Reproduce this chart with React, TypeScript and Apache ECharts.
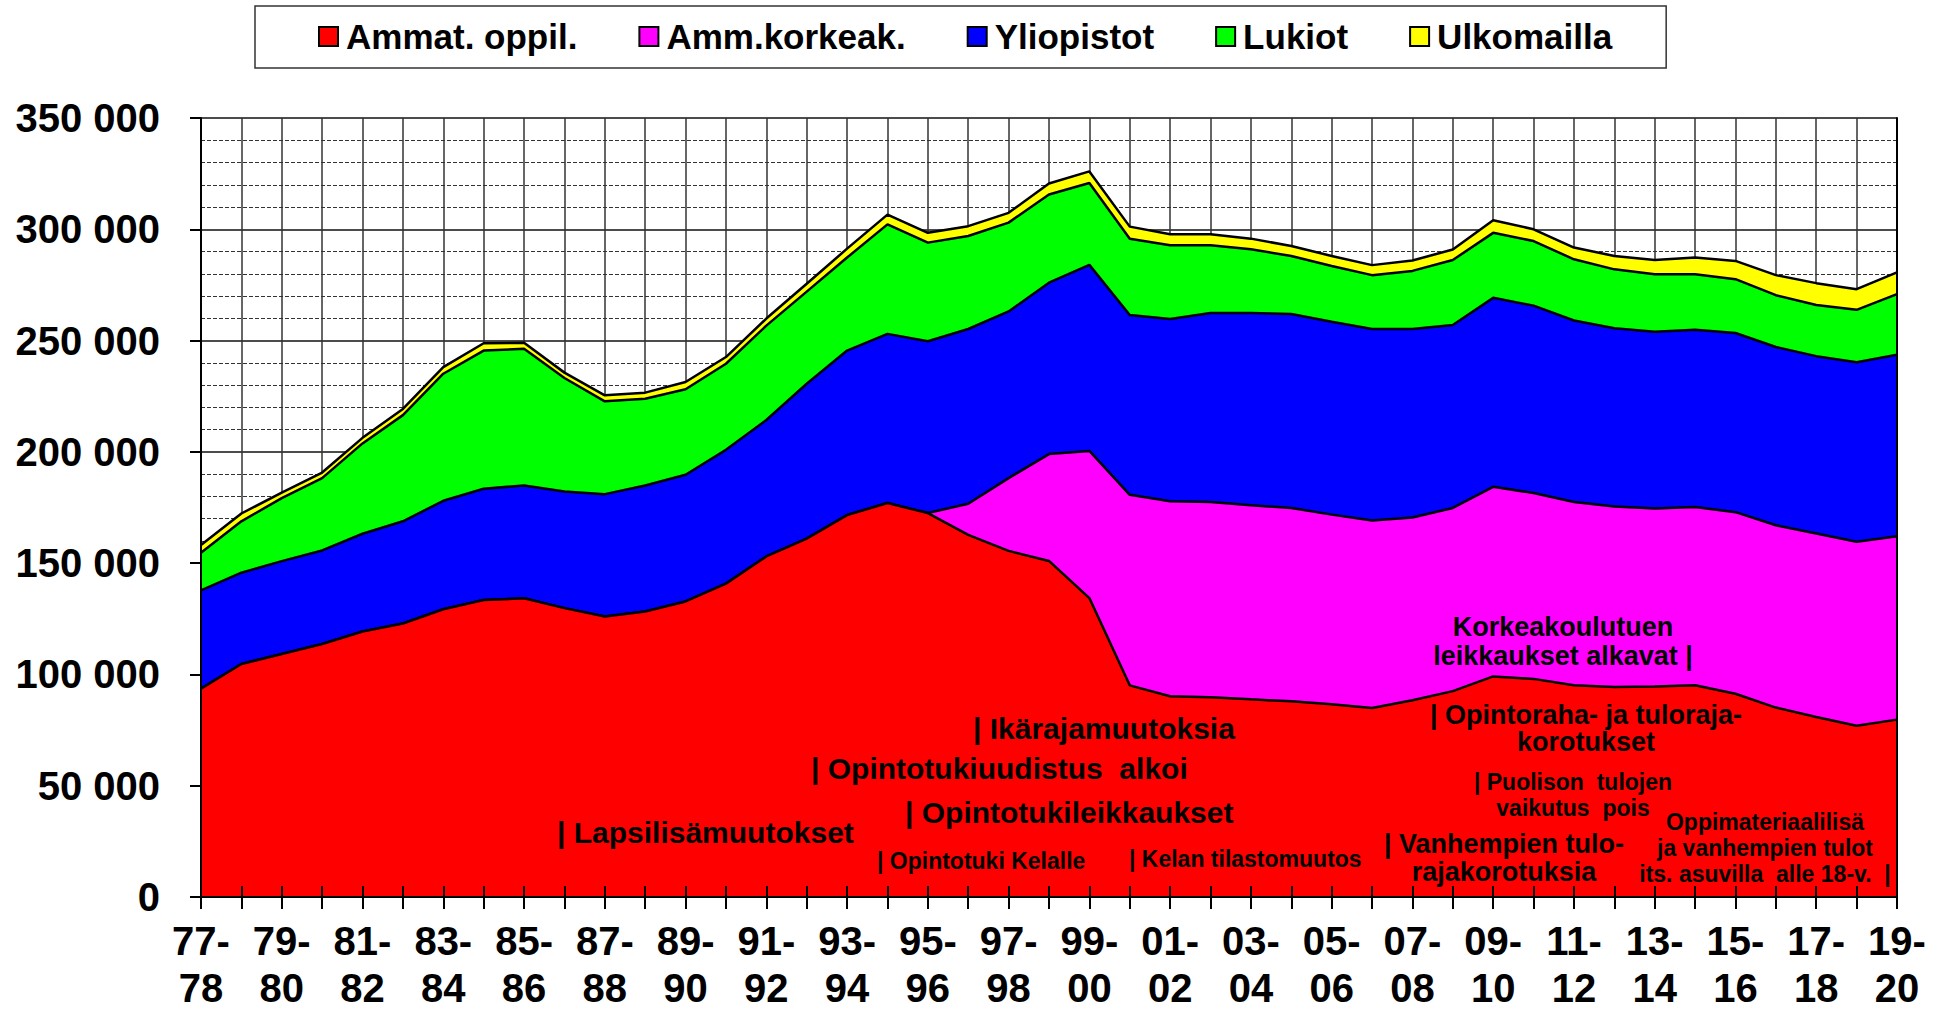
import React, { useEffect, useRef } from "react";
import * as echarts from "echarts";

const FONT = "'Liberation Sans', Arial, Helvetica, sans-serif";

const categories = [
  "77-78", "78-79", "79-80", "80-81", "81-82", "82-83", "83-84", "84-85", "85-86", "86-87",
  "87-88", "88-89", "89-90", "90-91", "91-92", "92-93", "93-94", "94-95", "95-96", "96-97",
  "97-98", "98-99", "99-00", "00-01", "01-02", "02-03", "03-04", "04-05", "05-06", "06-07",
  "07-08", "08-09", "09-10", "10-11", "11-12", "12-13", "13-14", "14-15", "15-16", "16-17",
  "17-18", "18-19", "19-20",
];

const seriesNames = ["Ammat. oppil.", "Amm.korkeak.", "Yliopistot", "Lukiot", "Ulkomailla"];
const seriesColors = ["#FF0000", "#FF00FF", "#0000FF", "#00FF00", "#FFFF00"];

const ammatOppil = [
  93600, 104700, 109200, 113700, 119300, 122900, 129300, 133400, 134200, 129800,
  126000, 128300, 132800, 140800, 153000, 161000, 171600, 177000, 172500, 162700,
  155500, 151000, 134300, 95100, 90200, 89800, 88800, 87900, 86600, 84900,
  88400, 92500, 99100, 98000, 95100, 94300, 94600, 95100, 91300, 85100,
  80900, 76900, 79700,
];
const ammKorkeak = [
  0, 0, 0, 0, 0, 0, 0, 0, 0, 0,
  0, 0, 0, 0, 0, 0, 0, 0, 0, 14000,
  32700, 48000, 66100, 85600, 87600, 87700, 87200, 86900, 85200, 84300,
  82100, 82300, 85200, 83500, 82400, 81200, 79900, 80100, 81600, 81900,
  82400, 82700, 82400,
];
const yliopistot = [
  44200, 41000, 41700, 42000, 43900, 45900, 48700, 50000, 50700, 52400,
  55000, 56600, 56900, 60100, 61300, 69600, 73900, 76000, 77200, 78500,
  74900, 77000, 83600, 80800, 81900, 84900, 86400, 87100, 86700, 86000,
  84700, 82200, 84900, 84200, 81500, 80000, 79500, 79700, 80500, 80100,
  79700, 80700, 81500,
];
const lukiot = [
  16900, 23100, 28300, 32500, 40600, 47700, 57100, 62100, 61400, 51000,
  41700, 39000, 38400, 38700, 42400, 41400, 41800, 49200, 44300, 41800,
  39900, 39600, 36800, 34200, 33100, 30400, 28600, 26100, 25000, 24200,
  26100, 29200, 29200, 29000, 27500, 26500, 25800, 24900, 24200, 23300,
  23000, 23500, 27300,
];
const ulkomailla = [
  3500, 3500, 2500, 2500, 2500, 2800, 3000, 3300, 2700, 2400,
  2700, 2700, 3300, 3000, 3200, 3500, 4000, 4400, 4400, 4400,
  4400, 5000, 5200, 5500, 5000, 5000, 4800, 4500, 4500, 4500,
  4700, 4700, 5700, 5300, 5300, 6000, 6400, 7500, 8200, 9000,
  9800, 9300, 9700,
];
const seriesData = [ammatOppil, ammKorkeak, yliopistot, lukiot, ulkomailla];

const yMin = 0;
const yMax = 350000;
const yInterval = 50000;

// annotation texts: [text, x, y, fontSize, lineHeight, align]
const annotations: [string, number, number, number, number, string][] = [
  ["| Lapsilisämuutokset", 557, 832, 30, 32, "left"],
  ["| Ikärajamuutoksia", 973, 728, 30, 32, "left"],
  ["| Opintotukiuudistus  alkoi", 811, 768, 30, 32, "left"],
  ["| Opintotukileikkaukset", 905, 812, 30, 32, "left"],
  ["| Opintotuki Kelalle", 877, 861, 23, 25, "left"],
  ["| Kelan tilastomuutos", 1129, 859, 23, 25, "left"],
  ["Korkeakoulutuen\nleikkaukset alkavat |", 1563, 641, 27, 29, "center"],
  ["| Opintoraha- ja tuloraja-\nkorotukset", 1586, 728, 27, 27, "center"],
  ["| Puolison  tulojen\nvaikutus  pois", 1573, 795, 23, 26, "center"],
  ["Oppimateriaalilisä\nja vanhempien tulot\nits. asuvilla  alle 18-v.  |", 1765, 848, 23, 26, "center"],
  ["| Vanhempien tulo-\nrajakorotuksia", 1504, 858, 27, 28, "center"],
];

const fmtY = (v: number) => String(v).replace(/\B(?=(\d{3})+(?!\d))/g, " ");
const fmtX = (v: string) => v.replace("-", "-\n");

export default function App() {
  const ref = useRef<HTMLDivElement>(null);

  useEffect(() => {
    if (!ref.current) return;
    const chart = echarts.init(ref.current, undefined, { renderer: "svg" });
    const axisLineStyle = { color: "#000", width: 2 };

    const option: any = {
      animation: false,
      backgroundColor: "#ffffff",
      textStyle: { fontFamily: FONT },
      legend: {
        data: seriesNames,
        left: 255,
        top: 6,
        icon: "rect",
        itemWidth: 19,
        itemHeight: 19,
        itemGap: 61,
        selectedMode: false,
        padding: [13, 54, 14, 63],
        borderColor: "#333",
        borderWidth: 1.5,
        itemStyle: { borderColor: "#000", borderWidth: 2 },
        textStyle: {
          fontSize: 35,
          fontWeight: "bold",
          color: "#000",
          fontFamily: FONT,
          padding: [0, 0, 0, 3],
        },
      },
      grid: { left: 201, right: 36, top: 118, bottom: 107, containLabel: false },
      xAxis: [
        {
          type: "category",
          data: categories,
          boundaryGap: false,
          axisLine: { show: false },
          axisTick: { show: true, interval: 0, length: 12, lineStyle: axisLineStyle },
          axisLabel: {
            interval: 1,
            formatter: fmtX,
            fontSize: 40,
            fontWeight: "bold",
            color: "#000",
            fontFamily: FONT,
            lineHeight: 47,
            margin: 20,
          },
          splitLine: { show: true, interval: 0, lineStyle: { color: "#333", width: 1.5 } },
        },
        {
          type: "category",
          data: categories,
          boundaryGap: false,
          position: "bottom",
          z: 10,
          axisLine: { show: true, lineStyle: axisLineStyle },
          axisTick: { show: true, inside: true, interval: 0, length: 11, lineStyle: axisLineStyle },
          axisLabel: { show: false },
          splitLine: { show: false },
        },
      ],
      yAxis: [
        {
          type: "value",
          min: yMin,
          max: yMax,
          interval: yInterval,
          axisLine: { show: false },
          axisTick: { show: false },
          axisLabel: { show: false },
          splitLine: { show: true, lineStyle: { color: "#111", width: 1.5 } },
          minorTick: { show: false, splitNumber: 5 },
          minorSplitLine: { show: true, lineStyle: { color: "#333", width: 1, type: [4, 2] } },
        },
        {
          type: "value",
          min: yMin,
          max: yMax,
          interval: yInterval,
          position: "left",
          z: 10,
          axisLine: { show: true, lineStyle: axisLineStyle },
          axisTick: { show: true, length: 11, lineStyle: axisLineStyle },
          axisLabel: {
            fontSize: 40,
            fontWeight: "bold",
            color: "#000",
            fontFamily: FONT,
            margin: 41,
            formatter: fmtY,
          },
          splitLine: { show: false },
        },
        {
          type: "value",
          min: yMin,
          max: yMax,
          interval: yInterval,
          position: "right",
          z: 10,
          axisLine: { show: true, lineStyle: axisLineStyle },
          axisTick: { show: false },
          axisLabel: { show: false },
          splitLine: { show: false },
        },
      ],
      series: seriesNames.map((name, i) => ({
        name,
        type: "line",
        stack: "total",
        xAxisIndex: 0,
        yAxisIndex: 0,
        data: seriesData[i],
        symbol: "none",
        showSymbol: false,
        z: 8 - i,
        lineStyle: { color: "#000", width: 2.5 },
        itemStyle: { color: seriesColors[i], borderColor: "#000", borderWidth: 2 },
        areaStyle: { color: seriesColors[i], opacity: 1 },
        emphasis: { disabled: true },
      })),
      graphic: annotations.map(([text, x, y, fs, lh, align]) => ({
        type: "text",
        x,
        y,
        z: 100,
        silent: true,
        style: {
          text,
          fill: "#000",
          fontSize: fs,
          fontWeight: "bold",
          fontFamily: FONT,
          lineHeight: lh,
          align,
          textAlign: align,
          verticalAlign: "middle",
          textVerticalAlign: "middle",
        },
      })),
    };

    chart.setOption(option);
    return () => chart.dispose();
  }, []);

  return (
    <div
      ref={ref}
      style={{ position: "absolute", left: 0, top: 0, width: 1933, height: 1011, background: "#fff" }}
    />
  );
}
